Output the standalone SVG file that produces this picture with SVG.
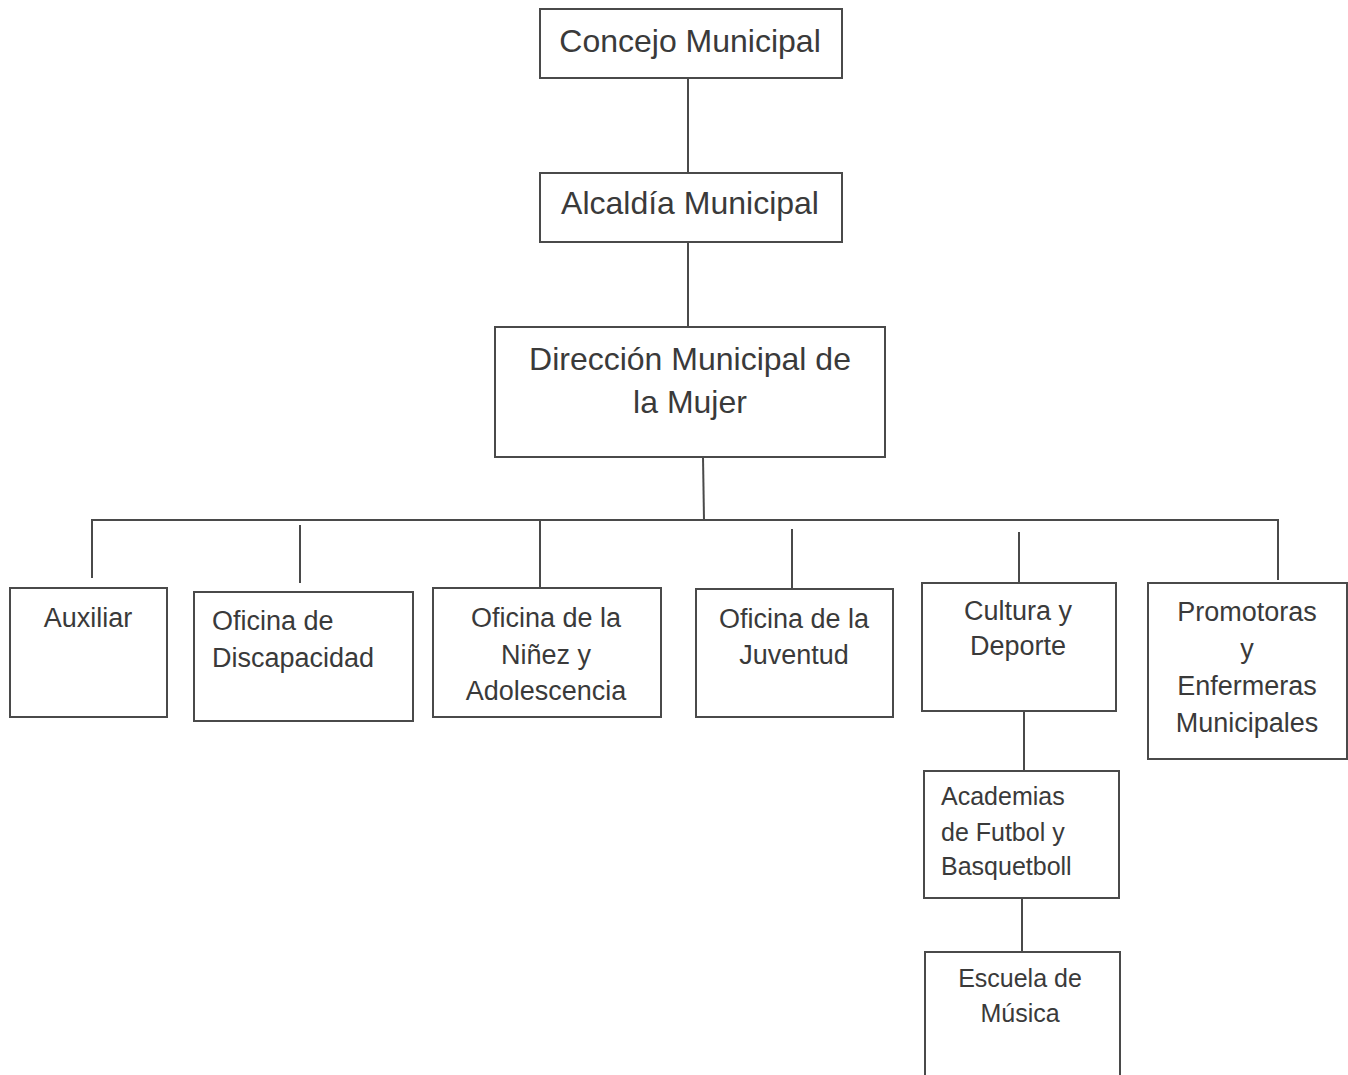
<svg xmlns="http://www.w3.org/2000/svg" width="1348" height="1075" viewBox="0 0 1348 1075">
<style>
.box{fill:#fff;stroke:#4a4a4a;stroke-width:2}
.ln{stroke:#4a4a4a;stroke-width:2;fill:none}
text{font-family:"Liberation Sans",Arial,sans-serif;fill:#3a3a3a}
.big{font-size:32px;text-anchor:middle}
.mid{font-size:27px;text-anchor:middle}
.midl{font-size:27px;text-anchor:start}
.sm{font-size:25px;text-anchor:middle}
.sml{font-size:25px;text-anchor:start}
</style>
<rect width="1348" height="1075" fill="#fff"/>
<g id="connectors">
<line class="ln" x1="688" y1="78" x2="688" y2="173"/>
<line class="ln" x1="688" y1="242" x2="688" y2="327"/>
<line class="ln" x1="703" y1="457" x2="704" y2="520"/>
<polyline class="ln" points="92,578 92,520 1278,520 1278,580"/>
<line class="ln" x1="300" y1="525" x2="300" y2="583"/>
<line class="ln" x1="540" y1="520" x2="540" y2="588"/>
<line class="ln" x1="792" y1="529" x2="792" y2="589"/>
<line class="ln" x1="1019" y1="532" x2="1019" y2="583"/>
<line class="ln" x1="1024" y1="711" x2="1024" y2="771"/>
<line class="ln" x1="1022" y1="898" x2="1022" y2="952"/>
</g>
<g id="concejo">
<rect class="box" x="540" y="9" width="302" height="69"/>
<text class="big" x="690" y="52">Concejo Municipal</text>
</g>
<g id="alcaldia">
<rect class="box" x="540" y="173" width="302" height="69"/>
<text class="big" x="690" y="214">Alcaldía Municipal</text>
</g>
<g id="direccion">
<rect class="box" x="495" y="327" width="390" height="130"/>
<text class="big" x="690" y="370">Dirección Municipal de</text>
<text class="big" x="690" y="413">la Mujer</text>
</g>
<g id="auxiliar">
<rect class="box" x="10" y="588" width="157" height="129"/>
<text class="mid" x="88" y="627">Auxiliar</text>
</g>
<g id="discapacidad">
<rect class="box" x="194" y="592" width="219" height="129"/>
<text class="midl" x="212" y="630">Oficina de</text>
<text class="midl" x="212" y="667">Discapacidad</text>
</g>
<g id="ninez">
<rect class="box" x="433" y="588" width="228" height="129"/>
<text class="mid" x="546" y="627">Oficina de la</text>
<text class="mid" x="546" y="664">Niñez y</text>
<text class="mid" x="546" y="700">Adolescencia</text>
</g>
<g id="juventud">
<rect class="box" x="696" y="589" width="197" height="128"/>
<text class="mid" x="794" y="628">Oficina de la</text>
<text class="mid" x="794" y="664">Juventud</text>
</g>
<g id="cultura">
<rect class="box" x="922" y="583" width="194" height="128"/>
<text class="mid" x="1018" y="620">Cultura y</text>
<text class="mid" x="1018" y="655">Deporte</text>
</g>
<g id="promotoras">
<rect class="box" x="1148" y="583" width="199" height="176"/>
<text class="mid" x="1247" y="621">Promotoras</text>
<text class="mid" x="1247" y="658">y</text>
<text class="mid" x="1247" y="695">Enfermeras</text>
<text class="mid" x="1247" y="732">Municipales</text>
</g>
<g id="academias">
<rect class="box" x="924" y="771" width="195" height="127"/>
<text class="sml" x="941" y="805">Academias</text>
<text class="sml" x="941" y="841">de Futbol y</text>
<text class="sml" x="941" y="875">Basquetboll</text>
</g>
<g id="escuela">
<rect class="box" x="925" y="952" width="195" height="140"/>
<text class="sm" x="1020" y="987">Escuela de</text>
<text class="sm" x="1020" y="1022">Música</text>
</g>
</svg>
